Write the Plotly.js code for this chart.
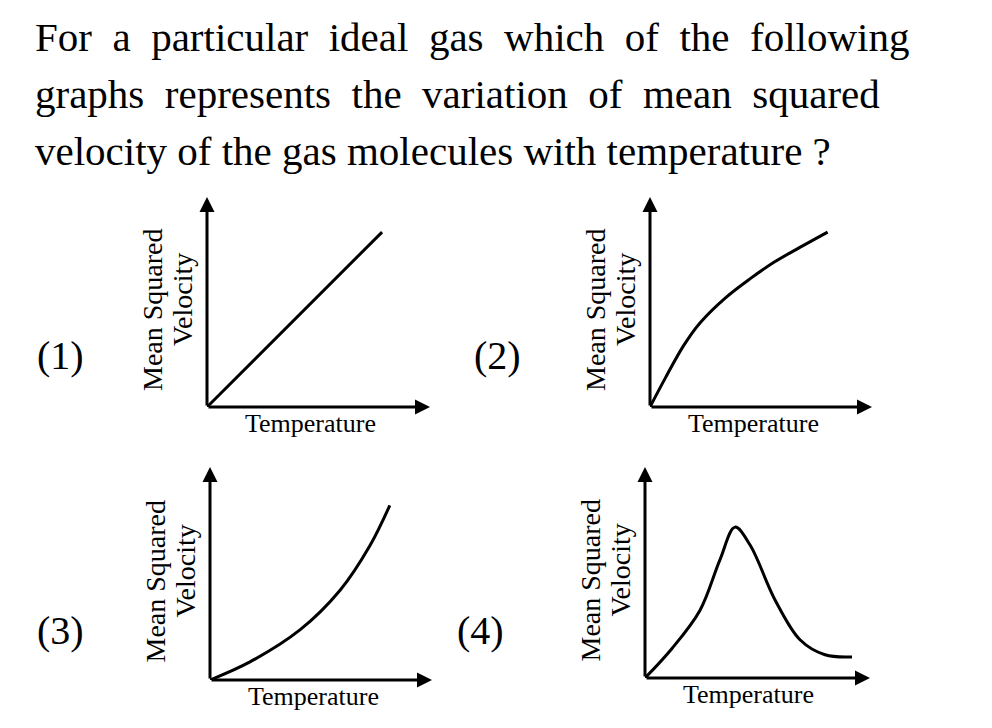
<!DOCTYPE html>
<html><head><meta charset="utf-8">
<script src="https://cdn.plot.ly/plotly-3.0.1.min.js"></script>
<style>body{margin:0;background:#fff}#c{width:992px;height:728px}</style>
</head><body><div id="c"></div>
<script>
// Data (arbitrary units)
const T1=[0,7.85], V1=[0,8.33];
const T2=[0,0.7,1.5,2.25,3.4,4.5,5.6,6.75,8.0], V2=[0,1.4,2.9,4.0,5.2,6.1,6.9,7.6,8.33];
const T3=[0,1.8,4.05,5.85,7.2,8.1], V3=[0,0.85,2.35,4.2,6.3,8.2];
const T4=[0,1.2,2.44,3.33,4.0,4.67,5.78,6.9,8.0,9.2], V4=[0,1.4,3.2,5.6,7.15,6.3,3.7,1.8,1.1,1.0];
const questionLines=["For a particular ideal gas which of the following","graphs represents the variation of mean squared","velocity of the gas molecules with temperature ?"];
const optionLabels=["(1)","(2)","(3)","(4)"];
const xLabel="Temperature", yLabel1="Mean Squared", yLabel2="Velocity";

const W=992,H=728;
const px=x=>x/W, py=y=>1-y/H;
const panels=[
 {ox:207,oy:407,xt:430,yt:197,lx:60,ly:355},
 {ox:650,oy:407,xt:872,yt:197,lx:497,ly:355},
 {ox:210,oy:680,xt:432,yt:467,lx:60,ly:630},
 {ox:645,oy:678,xt:870,yt:467,lx:480,ly:630}
];
const series=[[T1,V1],[T2,V2],[T3,V3],[T4,V4]];
const font={family:"Liberation Serif, Times New Roman, serif",color:"#000"};
const layout={width:W,height:H,margin:{l:0,r:0,t:0,b:0},showlegend:false,
 paper_bgcolor:"#fff",plot_bgcolor:"rgba(0,0,0,0)",annotations:[]};
const data=[];
const txt=(x,y,t,size,extra)=>Object.assign({xref:"paper",yref:"paper",x:px(x),y:py(y),text:t,
  xanchor:"center",yanchor:"middle",showarrow:false,font:Object.assign({size:size},font)},extra||{});
panels.forEach((p,i)=>{
 const n=i+1, xa=n===1?"x":"x"+n, ya=n===1?"y":"y"+n;
 const xk=n===1?"xaxis":"xaxis"+n, yk=n===1?"yaxis":"yaxis"+n;
 layout[xk]={domain:[px(p.ox),px(p.xt)],range:[0,10],visible:false,fixedrange:true,anchor:ya};
 layout[yk]={domain:[py(p.oy),py(p.yt)],range:[0,10],visible:false,fixedrange:true,anchor:xa};
 data.push({x:series[i][0],y:series[i][1],xaxis:xa,yaxis:ya,mode:"lines",
  line:{color:"#000",width:3,shape:"spline",smoothing:1},hoverinfo:"skip"});
 const arr={showarrow:true,arrowhead:2,arrowsize:1,arrowwidth:3,arrowcolor:"#000",text:"",
  xref:xa,yref:ya,axref:xa,ayref:ya,ax:0,ay:0};
 layout.annotations.push(Object.assign({},arr,{x:10,y:0}));
 layout.annotations.push(Object.assign({},arr,{x:0,y:10}));
 const cy=(p.oy+p.yt)/2+8;
 layout.annotations.push(txt(p.ox-55,cy,yLabel1,28,{textangle:-90}));
 layout.annotations.push(txt(p.ox-25,cy-10,yLabel2,28,{textangle:-90}));
 layout.annotations.push(txt(p.ox+103,p.oy+16,xLabel,26));
 layout.annotations.push(txt(p.lx,p.ly,optionLabels[i],40));
});
const lineY=[37,94,151];
const pad=[" \u00a0"," \u00a0",null];
questionLines.forEach((t,i)=>{
 const s=pad[i]?t.split(" ").join(pad[i]):t;
 layout.annotations.push(txt(33,lineY[i],s,41,{xanchor:"left"}));
});
Plotly.newPlot("c",data,layout,{staticPlot:true});
</script></body></html>
